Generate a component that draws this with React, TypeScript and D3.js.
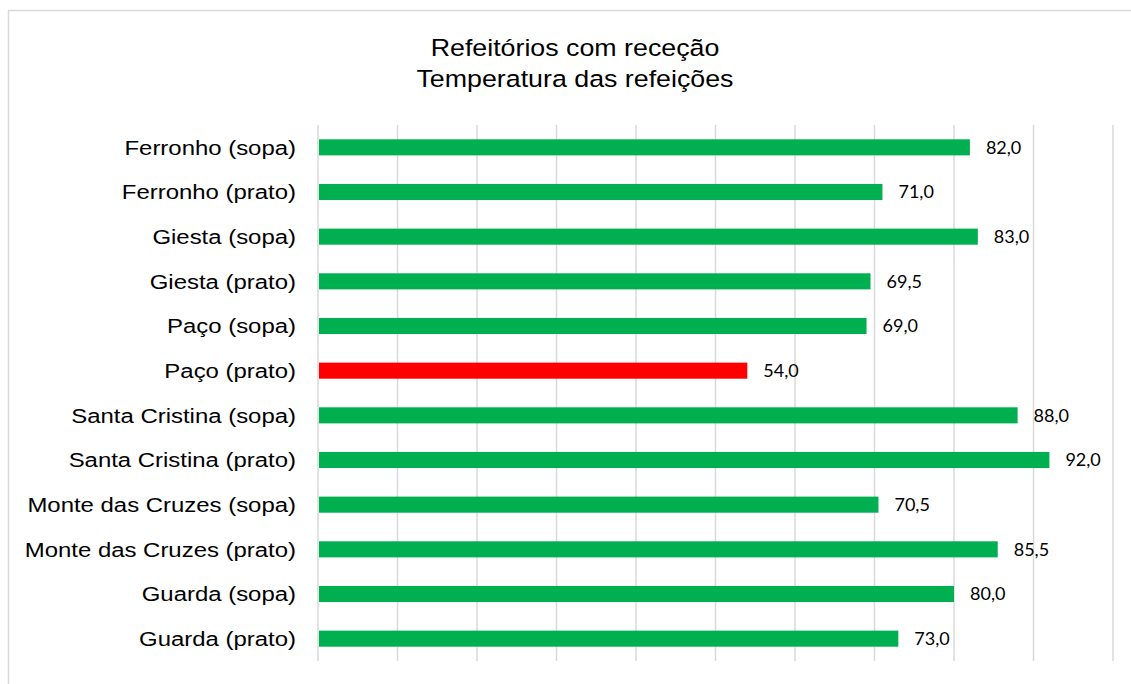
import React, { useEffect, useRef } from 'react';
import * as d3 from 'd3';

const categories = [
  'Ferronho (sopa)',
  'Ferronho (prato)',
  'Giesta (sopa)',
  'Giesta (prato)',
  'Paço (sopa)',
  'Paço (prato)',
  'Santa Cristina (sopa)',
  'Santa Cristina (prato)',
  'Monte das Cruzes (sopa)',
  'Monte das Cruzes (prato)',
  'Guarda (sopa)',
  'Guarda (prato)',
];
const temperatures = [82.0, 71.0, 83.0, 69.5, 69.0, 54.0, 88.0, 92.0, 70.5, 85.5, 80.0, 73.0];
const barColors = ['#00b050', '#00b050', '#00b050', '#00b050', '#00b050', '#ff0000', '#00b050', '#00b050', '#00b050', '#00b050', '#00b050', '#00b050'];
const titleLines = ['Refeitórios com receção', 'Temperatura das refeições'];
const gridTicks = [0, 10, 20, 30, 40, 50, 60, 70, 80, 90, 100];

const sans = "'Liberation Sans', Arial, sans-serif";
const stretch = 1.14; // the source image is a bit wider than tall

const App = () => {
  const ref = useRef<SVGSVGElement>(null);

  useEffect(() => {
    const svg = d3.select(ref.current);
    svg.selectAll('*').remove();

    const width = 1131;
    const height = 684;
    const left = 318;
    const right = 1113;
    const top = 125;
    const bottom = 661;

    // chart border (runs past the right and bottom edges)
    svg
      .append('rect')
      .attr('x', 8.5)
      .attr('y', 10.5)
      .attr('width', width)
      .attr('height', height)
      .attr('fill', '#fff')
      .attr('stroke', '#d9d9d9')
      .attr('stroke-width', 1.5);

    const x = d3.scaleLinear().domain([0, 100]).range([left, right]);
    const y = d3.scaleBand().domain(categories).range([top, bottom]).paddingInner(0.64).paddingOuter(0.32);

    // title
    svg
      .append('g')
      .selectAll('text')
      .data(titleLines)
      .join('text')
      .attr('transform', (d, i) => `translate(575, ${56 + i * 31}) scale(${stretch}, 1)`)
      .attr('text-anchor', 'middle')
      .attr('font-family', sans)
      .attr('font-size', 23.5)
      .attr('fill', '#000')
      .text((d) => d);

    // vertical gridlines
    svg
      .append('g')
      .selectAll('line')
      .data(gridTicks)
      .join('line')
      .attr('x1', (d) => x(d))
      .attr('x2', (d) => x(d))
      .attr('y1', top)
      .attr('y2', bottom)
      .attr('stroke', '#d9d9d9')
      .attr('stroke-width', 1.5);

    // bars
    svg
      .append('g')
      .selectAll('rect')
      .data(temperatures)
      .join('rect')
      .attr('x', x(0) + 1)
      .attr('y', (d, i) => y(categories[i]) as number)
      .attr('width', (d) => x(d) - x(0) - 1)
      .attr('height', y.bandwidth())
      .attr('fill', (d, i) => barColors[i]);

    // value labels
    svg
      .append('g')
      .selectAll('text')
      .data(temperatures)
      .join('text')
      .attr('x', (d) => x(d) + 16)
      .attr('y', (d, i) => (y(categories[i]) as number) + y.bandwidth() / 2)
      .attr('dy', '0.35em')
      .attr('font-family', 'Lato, Open Sans, sans-serif')
      .attr('font-size', 18)
      .attr('fill', '#000')
      .text((d) => d3.format('.1f')(d).replace('.', ','));

    // category labels
    svg
      .append('g')
      .selectAll('text')
      .data(categories)
      .join('text')
      .attr('transform', (d) => `translate(296, ${(y(d) as number) + y.bandwidth() / 2}) scale(${stretch}, 1)`)
      .attr('dy', '0.35em')
      .attr('text-anchor', 'end')
      .attr('font-family', sans)
      .attr('font-size', 21)
      .attr('fill', '#000')
      .text((d) => d);
  }, []);

  return (
    <svg
      ref={ref}
      width={1131}
      height={684}
      style={{ position: 'absolute', left: 0, top: 0, background: '#fff' }}
    />
  );
};

export default App;
